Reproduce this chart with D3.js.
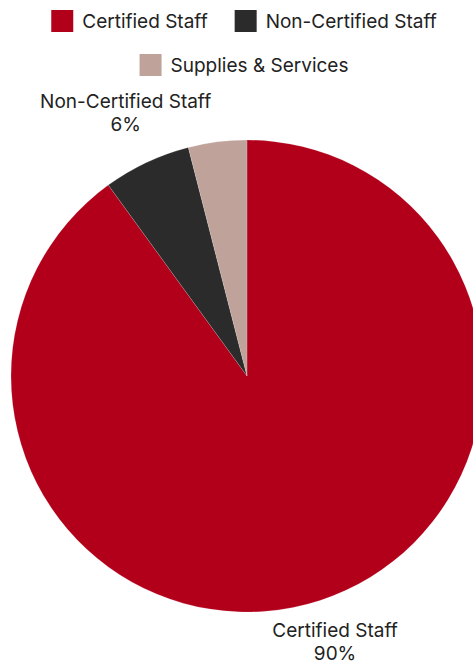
<!DOCTYPE html>
<html>
<head>
<meta charset="utf-8">
<script src="https://cdn.jsdelivr.net/npm/d3@7"></script>
<style>
  body { margin: 0; background: #fff; }
  svg { display: block; font-family: Inter, "Noto Sans", sans-serif; }
</style>
</head>
<body>
<div id="chart"></div>
<script>
// chart values
const categories = ["Certified Staff", "Non-Certified Staff", "Supplies & Services"];
const shares = [90, 6, 4];
const colors = ["#b2001b", "#2b2b2b", "#bfa39a"];

const width = 473, height = 661;
const cx = 247, cy = 376, radius = 236;

const svg = d3.select("#chart").append("svg")
    .attr("width", width)
    .attr("height", height);

const data = categories.map((c, i) => ({ name: c, value: shares[i], color: colors[i] }));

const pie = d3.pie().sort(null).value(d => d.value);
const arc = d3.arc().innerRadius(0).outerRadius(radius);
const labelArc = d3.arc().innerRadius(radius + 49).outerRadius(radius + 49);

const g = svg.append("g").attr("transform", `translate(${cx},${cy})`);
const arcs = pie(data);

g.selectAll("path.slice")
    .data(arcs)
    .enter().append("path")
    .attr("class", "slice")
    .attr("d", arc)
    .attr("fill", d => d.data.color)
    .attr("stroke", "rgba(255,255,255,0.3)")
    .attr("stroke-width", 0.5);

// outside labels, two lines centred on the slice's mid-angle (small slices left unlabelled)
const labels = g.selectAll("text.lbl")
    .data(arcs.filter(d => d.data.value >= 5))
    .enter().append("text")
    .attr("class", "lbl")
    .attr("text-anchor", "middle")
    .attr("font-size", 19)
    .attr("fill", "#222")
    .attr("transform", d => `translate(${labelArc.centroid(d)})`);
labels.append("tspan").attr("x", 0).attr("y", -16.5)
    .attr("dy", "0.35em")
    .text(d => d.data.name);
labels.append("tspan").attr("x", 0).attr("y", 6.5)
    .attr("dy", "0.35em")
    .text(d => d.data.value + "%");

// legend
const legendRows = [[0, 1], [2]];
const legendCenter = 244, sw = 22, textGap = 9, itemGap = 27;
legendRows.forEach((row, r) => {
    const rowG = svg.append("g");
    let x = 0;
    row.forEach(i => {
        const item = rowG.append("g").attr("transform", `translate(${x},0)`);
        item.append("rect").attr("width", sw).attr("height", sw).attr("fill", colors[i]);
        const t = item.append("text")
            .attr("x", sw + textGap).attr("y", sw / 2)
            .attr("dy", "0.35em")
            .attr("font-size", 19)
            .attr("fill", "#222")
            .text(categories[i]);
        x += sw + textGap + t.node().getComputedTextLength() + itemGap;
    });
    const total = x - itemGap;
    rowG.attr("transform", `translate(${legendCenter - total / 2},${10 + r * 44})`);
});
</script>
</body>
</html>
